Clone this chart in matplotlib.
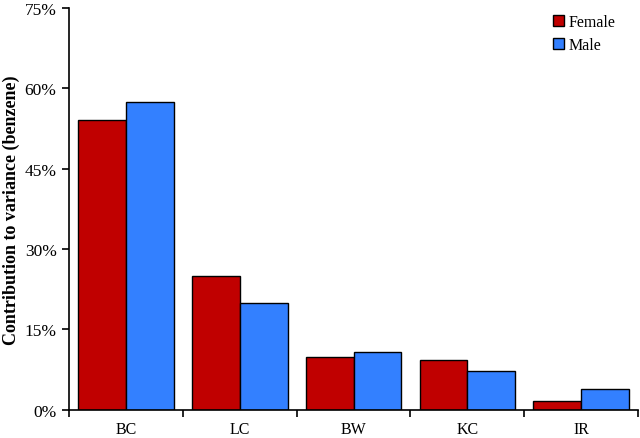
import numpy as np
import matplotlib
matplotlib.use('Agg')
import matplotlib.pyplot as plt
from matplotlib.ticker import FuncFormatter

# values (percent)
categories = ['BC', 'LC', 'BW', 'KC', 'IR']
female = [54.0, 25.0, 9.8, 9.3, 1.7]
male = [57.5, 20.0, 10.8, 7.3, 3.9]

plt.rcParams['font.family'] = ['Liberation Serif', 'DejaVu Serif']

fig = plt.figure(figsize=(6.4, 4.39), dpi=100)
ax = fig.add_axes([0.108, 0.064, 0.889, 0.916])

x = np.arange(len(categories))
w = 0.42
ax.bar(x - w / 2, female, w, color='#C00000', edgecolor='black', linewidth=1.0, label='Female')
ax.bar(x + w / 2, male, w, color='#3380FF', edgecolor='black', linewidth=1.0, label='Male')

ax.set_xlim(-0.5, len(categories) - 0.5)
ax.set_ylim(0, 75)
ax.set_yticks(np.arange(0, 76, 15))
ax.yaxis.set_major_formatter(FuncFormatter(lambda v, p: '%d%%' % v))

# category labels centred, ticks on the group boundaries
ax.set_xticks(x)
ax.set_xticklabels(categories)
ax.set_xticks(np.arange(-0.5, len(categories)), minor=True)
ax.tick_params(axis='x', which='major', length=0, pad=8, labelsize=11.5)
ax.tick_params(axis='x', which='minor', length=5, width=1.2, direction='out')
ax.tick_params(axis='y', length=5, width=1.2, direction='out', labelsize=12.5, pad=4)

for s in ['top', 'right']:
    ax.spines[s].set_visible(False)
for s in ['left', 'bottom']:
    ax.spines[s].set_linewidth(1.2)

ax.set_ylabel('Contribution to variance (benzene)', fontsize=13, fontweight='bold', labelpad=3)

ax.legend(loc='upper right', bbox_to_anchor=(0.985, 1.02), frameon=False, fontsize=11.5,
          handlelength=0.65, handleheight=0.65, handletextpad=0.3, labelspacing=0.45)

fig.savefig('out.png', dpi=100)
